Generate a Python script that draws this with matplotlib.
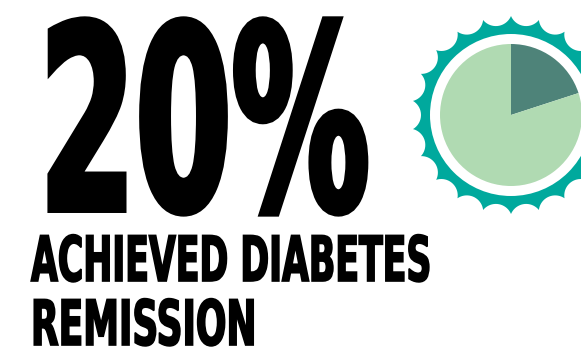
import numpy as np
import matplotlib
matplotlib.use("Agg")
import matplotlib.pyplot as plt
from matplotlib.patches import Polygon, Circle
from matplotlib.patheffects import AbstractPathEffect
from matplotlib.transforms import Affine2D

# share of patients in remission vs. not
remission_share = 20
shares = [remission_share, 100 - remission_share]
headline = "ACHIEVED DIABETES\nREMISSION"

teal = "#00a99d"
dark_green = "#4e8379"
light_green = "#b0dab2"


class Squeeze(AbstractPathEffect):
    """Narrow the glyphs horizontally and fatten them with a same-colour stroke."""

    def __init__(self, sx, stroke=0.0):
        super().__init__()
        self._sx = sx
        self._stroke = stroke

    def draw_path(self, renderer, gc, tpath, affine, rgbFace=None):
        gc0 = renderer.new_gc()
        gc0.copy_properties(gc)
        gc0.set_linewidth(self._stroke)
        gc0.set_foreground(rgbFace)
        gc0.set_joinstyle("miter")
        renderer.draw_path(gc0, tpath, Affine2D().scale(self._sx, 1) + affine, rgbFace)
        gc0.restore()


def badge_outline(cx, cy, r_tip, r_valley, n):
    # circle with n concave bites; tips sit between the bites
    a = np.pi / n
    d = (r_tip ** 2 - r_valley ** 2) / (2 * (r_tip * np.cos(a) - r_valley))
    rb = d - r_valley
    pts = []
    for k in range(n):
        mid = np.pi / 2 + a + 2 * a * k
        bx, by = cx + d * np.cos(mid), cy + d * np.sin(mid)
        t0 = (cx + r_tip * np.cos(mid - a), cy + r_tip * np.sin(mid - a))
        t1 = (cx + r_tip * np.cos(mid + a), cy + r_tip * np.sin(mid + a))
        ang0 = np.arctan2(t0[1] - by, t0[0] - bx)
        ang1 = np.arctan2(t1[1] - by, t1[0] - bx)
        if ang1 > ang0:
            ang1 -= 2 * np.pi
        for t in np.linspace(ang0, ang1, 20):
            pts.append((bx + rb * np.cos(t), by + rb * np.sin(t)))
    return np.array(pts)


fig = plt.figure(figsize=(5.81, 3.55), dpi=100)
ax = fig.add_axes([0, 0, 1, 1])

cx, cy = 511, 240
ax.add_patch(Polygon(badge_outline(cx, cy, 99, 90, 22), closed=True,
                     facecolor=teal, edgecolor="none"))
ax.add_patch(Circle((cx, cy), 81, facecolor="white", edgecolor="none"))
ax.pie(shares, colors=[dark_green, light_green], startangle=90,
       counterclock=False, center=(cx, cy), radius=71,
       wedgeprops=dict(linewidth=0))

font = "DejaVu Sans"
ax.text(39.5, 145, f"{remission_share}%", fontsize=185, fontweight="bold",
        family=font, ha="left", va="baseline",
        path_effects=[Squeeze(0.537, stroke=4.3)])
line1, line2 = headline.split("\n")
ax.text(31, 74, line1, fontsize=45, fontweight="bold", family=font,
        ha="left", va="baseline", path_effects=[Squeeze(0.555, stroke=1.2)])
ax.text(31, 10, line2, fontsize=45, fontweight="bold", family=font,
        ha="left", va="baseline", path_effects=[Squeeze(0.575, stroke=1.2)])

ax.set_xlim(0, 581)
ax.set_ylim(0, 355)
ax.set_aspect("equal")
ax.axis("off")

fig.savefig("out.png", dpi=100)
